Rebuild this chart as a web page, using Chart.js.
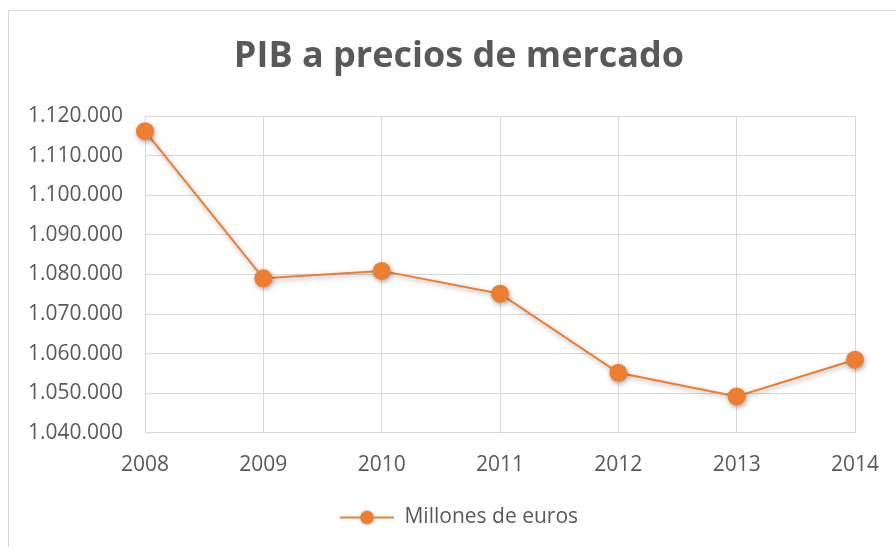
<!DOCTYPE html>
<html><head><meta charset="utf-8">
<script src="https://cdn.jsdelivr.net/npm/chart.js@4"></script>
<style>
html,body{margin:0;padding:0;background:#fff;}
#frame{position:absolute;left:8px;top:10px;width:900px;height:560px;border:1px solid #d9d9d9;box-sizing:border-box;}
#wrap{position:absolute;left:0;top:0;width:896px;height:547px;}
</style></head>
<body>
<div id="frame"></div>
<div id="wrap"><canvas id="c" width="896" height="547"></canvas></div>
<script>
const years = ['2008','2009','2010','2011','2012','2013','2014'];
const pib = [1116207, 1079034, 1080913, 1075147, 1055158, 1049181, 1058469];
const yMin = 1040000, yMax = 1120000, yStep = 10000;
const seriesName = 'Millones de euros';
const titleText = 'PIB a precios de mercado';

const ORANGE = '#ED7D31', TXT = '#595959', GRID = '#d9d9d9';
const FONT = "'Open Sans', sans-serif";

function fmt(v){ return String(Math.round(v)).replace(/\B(?=(\d{3})+(?!\d))/g,'.'); }

// legend symbol: line with a circle
const sym = document.createElement('canvas');
sym.width = 54; sym.height = 18;
(function(){
  const g = sym.getContext('2d');
  g.strokeStyle = ORANGE; g.lineWidth = 2;
  g.beginPath(); g.moveTo(0,9); g.lineTo(54,9); g.stroke();
  g.fillStyle = ORANGE; g.beginPath(); g.arc(27,9,7,0,Math.PI*2); g.fill();
})();

const shadow = {
  id:'shadow',
  beforeDatasetsDraw(chart){ const c=chart.ctx; c.save(); c.shadowColor='rgba(0,0,0,0.35)'; c.shadowBlur=5; c.shadowOffsetX=1; c.shadowOffsetY=2; },
  afterDatasetsDraw(chart){ chart.ctx.restore(); }
};

new Chart(document.getElementById('c'), {
  type:'line',
  data:{ labels:years, datasets:[{
    label:seriesName, data:pib, borderColor:ORANGE, backgroundColor:ORANGE,
    borderWidth:2, pointRadius:9, pointHoverRadius:9, pointBackgroundColor:ORANGE, pointBorderColor:ORANGE, pointBorderWidth:0, tension:0, clip:false
  }]},
  options:{
    responsive:false, animation:false, events:[],
    layout:{ padding:{ left:22, right:0, top:0, bottom:9 } },
    plugins:{
      title:{ display:true, text:titleText, color:TXT, font:{ family:FONT, size:36, weight:'bold' }, padding:{ top:35, bottom:38 } },
      legend:{ position:'bottom', labels:{ usePointStyle:true, pointStyleWidth:54, color:TXT, font:{ family:FONT, size:21 }, padding:9,
        generateLabels(chart){ return [{ text:seriesName, pointStyle:sym, fillStyle:ORANGE, strokeStyle:ORANGE, lineWidth:0, datasetIndex:0, fontColor:TXT }]; } } },
      tooltip:{ enabled:false }
    },
    scales:{
      x:{ offset:false, grid:{ color:GRID, lineWidth:1, drawTicks:false }, border:{ color:GRID },
        afterFit(s){ s.paddingLeft = 0; s.paddingRight = 0; },
        ticks:{ color:TXT, font:{ family:FONT, size:21 }, padding:20, maxRotation:0 } },
      y:{ min:yMin, max:yMax, grid:{ color:GRID, lineWidth:1, drawTicks:false }, border:{ color:GRID },
        afterFit(s){ s.width = 123; },
        ticks:{ stepSize:yStep, color:TXT, font:{ family:FONT, size:21 }, padding:22, callback:(v)=>fmt(v) } },
      y2:{ position:'right', min:yMin, max:yMax, display:true, grid:{ display:false, drawTicks:false }, border:{ display:false },
        ticks:{ display:false }, afterFit(s){ s.width = 41; } }
    }
  },
  plugins:[shadow]
});
</script>
</body></html>
